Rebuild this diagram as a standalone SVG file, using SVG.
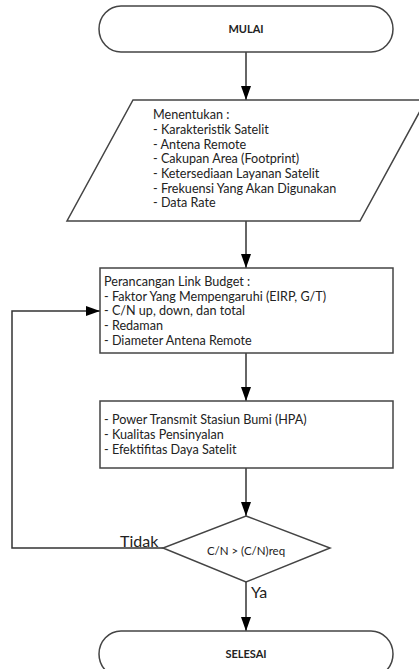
<svg xmlns="http://www.w3.org/2000/svg" width="419" height="669" viewBox="0 0 419 669">
<defs>
<marker id="arr" markerWidth="14" markerHeight="10" refX="14" refY="5" orient="auto" markerUnits="userSpaceOnUse">
<path d="M0,0 L14,5 L0,10 Z" fill="#000"/>
</marker>
<style>
.shape{fill:#fff;stroke:#444;stroke-width:1.5}
.conn{fill:none;stroke:#333;stroke-width:1.5}
.t{font-family:Lato,"Liberation Sans",sans-serif;font-size:12.6px;fill:#222}
.b{font-family:Lato,"Liberation Sans",sans-serif;font-size:11px;font-weight:bold;fill:#222;text-anchor:middle}
.lbl{font-family:Lato,"Liberation Sans",sans-serif;font-size:16px;fill:#222}
</style>
</defs>
<rect width="419" height="669" fill="#fff"/>
<g id="connectors">
<line class="conn" x1="246" y1="52" x2="246" y2="100" marker-end="url(#arr)"/>
<line class="conn" x1="246" y1="221" x2="246" y2="268" marker-end="url(#arr)"/>
<line class="conn" x1="246" y1="353" x2="246" y2="401" marker-end="url(#arr)"/>
<line class="conn" x1="246" y1="468" x2="246" y2="516" marker-end="url(#arr)"/>
<line class="conn" x1="246" y1="582" x2="246" y2="631" marker-end="url(#arr)"/>
<polyline class="conn" points="163,548 12,548 12,311 100,311" marker-end="url(#arr)"/>
<text class="lbl" x="120" y="547">Tidak</text>
<text class="lbl" x="251" y="598">Ya</text>
</g>
<g id="mulai">
<rect class="shape" x="99" y="6" width="294" height="46" rx="22" ry="23"/>
<text class="b" x="246" y="33">MULAI</text>
</g>
<g id="input">
<polygon class="shape" points="133,100 426,100 360,221 67,221"/>
<text class="t" x="153" y="119">Menentukan :</text>
<text class="t" x="153" y="134">- Karakteristik Satelit</text>
<text class="t" x="153" y="148.5">- Antena Remote</text>
<text class="t" x="153" y="163">- Cakupan Area (Footprint)</text>
<text class="t" x="153" y="178">- Ketersediaan Layanan Satelit</text>
<text class="t" x="153" y="192.5">- Frekuensi Yang Akan Digunakan</text>
<text class="t" x="153" y="207">- Data Rate</text>
</g>
<g id="linkbudget">
<rect class="shape" x="100" y="268" width="293" height="85"/>
<text class="t" x="104" y="286">Perancangan Link Budget :</text>
<text class="t" x="104" y="301">- Faktor Yang Mempengaruhi (EIRP, G/T)</text>
<text class="t" x="104" y="315">- C/N up, down, dan total</text>
<text class="t" x="104" y="330">- Redaman</text>
<text class="t" x="104" y="345">- Diameter Antena Remote</text>
</g>
<g id="hasil">
<rect class="shape" x="100" y="401" width="293" height="67"/>
<text class="t" x="104" y="424">- Power Transmit Stasiun Bumi (HPA)</text>
<text class="t" x="104" y="439">- Kualitas Pensinyalan</text>
<text class="t" x="104" y="454">- Efektifitas Daya Satelit</text>
</g>
<g id="keputusan">
<polygon class="shape" points="246,516 330,548 246,582 163,548"/>
<text class="t" x="246" y="555" style="font-size:11.5px;text-anchor:middle">C/N &gt; (C/N)req</text>
</g>
<g id="selesai">
<rect class="shape" x="99" y="631" width="294" height="46" rx="22" ry="23"/>
<text class="b" x="246" y="658">SELESAI</text>
</g>
</svg>
